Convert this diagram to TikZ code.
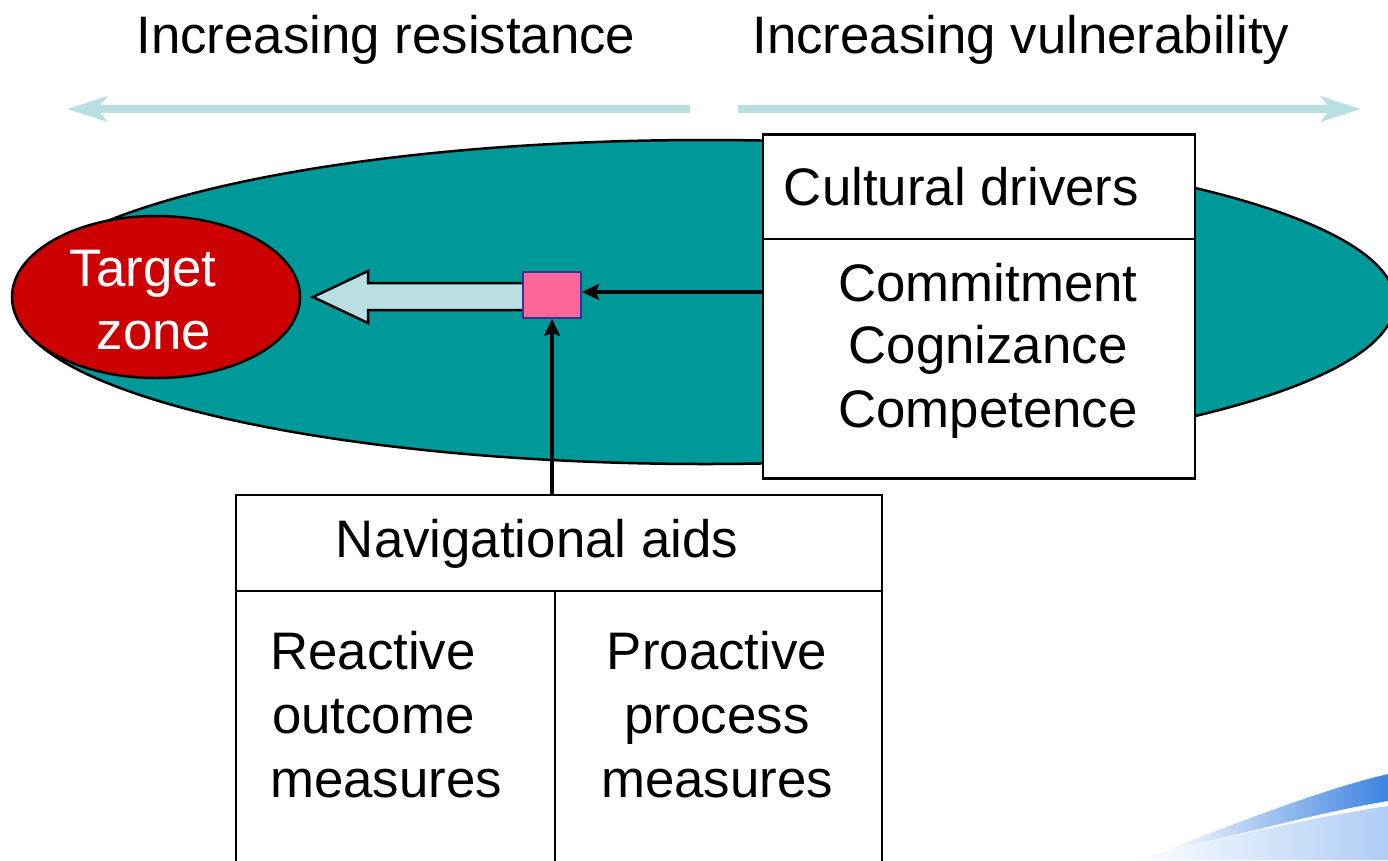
\documentclass[tikz,border=0pt]{standalone}
\usepackage{fontspec}
\setmainfont{Liberation Sans}
\usetikzlibrary{arrows.meta,shapes.geometric}

\definecolor{zoneteal}{RGB}{0,153,153}
\definecolor{targetred}{RGB}{204,0,0}
\definecolor{paleaqua}{RGB}{185,223,226}
\definecolor{hubpink}{RGB}{255,102,153}
\definecolor{hubedge}{RGB}{51,51,153}
\definecolor{swooshblue}{RGB}{60,130,225}
\definecolor{swooshlight}{RGB}{175,205,245}

\begin{document}
\begin{tikzpicture}[x=1pt,y=-1pt,
  lbl/.style={inner sep=0pt, font=\fontsize{52.8}{63.5}\selectfont},
  trend/.style={draw=paleaqua, line width=8pt,
    -{Stealth[length=40pt,width=25pt,inset=10pt]}},
  conn/.style={line width=4pt, -{Stealth[length=17pt,width=16pt,inset=3pt]}},
  panel/.style={draw, line width=2.5pt, fill=white, inner sep=0pt},
  divider/.style={line width=2pt}]
\useasboundingbox (0,0) rectangle (1388,860);
\clip (0,0) rectangle (1388,860);

% decorative swoosh in the lower right corner
\shade[left color=white, right color=swooshlight]
  (1130,860) .. controls (1230,836) and (1320,816) .. (1388,806) -- (1388,860) -- cycle;
\shade[left color=white, right color=swooshblue]
  (1160,852) .. controls (1240,822) and (1320,790) .. (1388,774)
  -- (1388,801) .. controls (1320,812) and (1240,835) .. (1160,852) -- cycle;

% direction arrows and their captions
\coordinate (resStart) at (690,109);
\coordinate (resEnd) at (67,109);
\coordinate (vulStart) at (738,109);
\coordinate (vulEnd) at (1361,109);
\draw[trend] (resStart) -- (resEnd);
\draw[trend] (vulStart) -- (vulEnd);
\node[lbl, anchor=base] (resist) at (386,53) {Increasing resistance};
\node[lbl, anchor=base] (vulner) at (1021,53) {Increasing vulnerability};

% the field and the target zone
\node[ellipse, draw, line width=2.5pt, fill=zoneteal, inner sep=0pt,
  minimum width=1380pt, minimum height=324pt] (field) at (705,302) {};
\node[ellipse, draw, line width=2.5pt, fill=targetred, inner sep=0pt,
  minimum width=288pt, minimum height=162pt] (target) at (156,297) {};
\node[lbl, text=white, anchor=base] (tgtA) at (143,286) {Target};
\node[lbl, text=white, anchor=base] (tgtB) at (154,349) {zone};

% block arrow heading to the target
\draw[line width=2.5pt, fill=paleaqua, line join=miter]
  (523,283) -- (368,283) -- (368,271) -- (313,297) -- (368,323) -- (368,310) -- (523,310);

% cultural drivers panel
\node[panel, minimum width=432pt, minimum height=344pt] (cult) at (979,306.5) {};
\coordinate (cultDiv) at (0,239);
\draw[divider] (cult.west |- cultDiv) -- (cult.east |- cultDiv);
\node[lbl, anchor=base] (cultHead) at (961.5,205) {Cultural drivers};
\node[lbl, anchor=base] (commit) at (988,301) {Commitment};
\node[lbl, anchor=base] (cogn) at (988,363) {Cognizance};
\node[lbl, anchor=base] (compet) at (988,427) {Competence};

% navigational aids panel
\node[panel, minimum width=646pt, minimum height=400pt] (nav) at (559,695) {};
\coordinate (navDiv) at (0,591);
\coordinate (navCol) at (555,0);
\draw[divider] (nav.west |- navDiv) -- (nav.east |- navDiv);
\draw[divider] (navCol |- navDiv) -- (navCol |- nav.south);
\node[lbl, anchor=base] (navHead) at (537,557) {Navigational aids};
\node[lbl, anchor=base west] (reA) at (270,669) {Reactive};
\node[lbl, anchor=base west] (reB) at (272,733) {outcome};
\node[lbl, anchor=base west] (reC) at (270,797) {measures};
\node[lbl, anchor=base] (proA) at (717,669) {Proactive};
\node[lbl, anchor=base] (proB) at (717,733) {process};
\node[lbl, anchor=base] (proC) at (717,797) {measures};

% hub where the influences meet
\node[draw=hubedge, line width=2pt, fill=hubpink, inner sep=0pt,
  minimum width=58pt, minimum height=46pt] (hub) at (552,295) {};
\coordinate (hubIn) at (0,292);
\draw[conn] (cult.west |- hubIn) -- (hub.east |- hubIn);
\draw[conn] (hub.south |- nav.north) -- (hub.south);
\end{tikzpicture}
\end{document}
